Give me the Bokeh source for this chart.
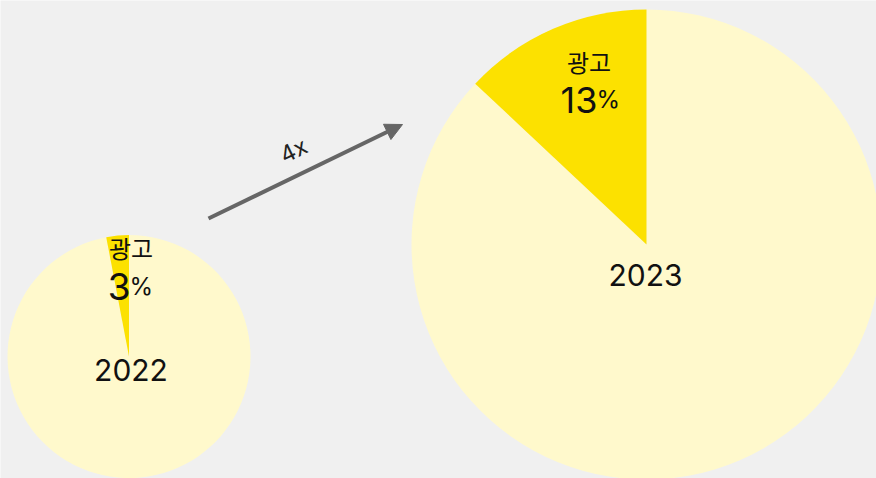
import math
from bokeh.plotting import figure
from bokeh.models import Range1d, Arrow, NormalHead, ColumnDataSource
from bokeh.core.properties import value
from bokeh.embed import file_html
from bokeh.resources import INLINE

# ---- data ----
years = ["2022", "2023"]
ad_share = [3, 13]          # percent of each pie
category = "광고"
growth_label = "4x"

# ---- layout (screen pixels of the 876x478 window) ----
W, H = 876, 478
centers = [(128.5, 356.0), (646.0, 244.0)]
radii = [121.5, 235.0]

BG = "#F0F0F0"
LIGHT = "#FFF9CC"
YELLOW = "#FCE100"
INK = "#111111"
KFONT = "Noto Sans CJK KR"
NFONT = "Inter"


def fy(sy):
    return H - sy


p = figure(width=W, height=H, output_backend="svg", toolbar_location=None,
           x_range=Range1d(0, W), y_range=Range1d(0, H),
           min_border=0, background_fill_color=BG, border_fill_color=BG)
p.axis.visible = False
p.grid.visible = False
p.outline_line_color = None

top = math.pi / 2
for (cx, cy), r, share in zip(centers, radii, ad_share):
    frac = share / 100.0
    end = top + frac * 2 * math.pi
    src = ColumnDataSource(dict(x=[cx, cx], y=[fy(cy), fy(cy)], r=[r, r],
                                s=[end, top], e=[top + 2 * math.pi, end],
                                c=[LIGHT, YELLOW]))
    p.wedge(x="x", y="y", radius="r", start_angle="s", end_angle="e",
            fill_color="c", line_color=None, direction="anticlock", source=src)

# labels
year_pos = [(130.5, 369), (645, 274)]
cat_pos = [(130.5, 247), (588.5, 61)]
num_pos = [(130, 286), (597, 99)]
num_size = ["37px", "36px"]
pct_size = ["24px", "24px"]

for i, yr in enumerate(years):
    p.text(x=[year_pos[i][0]], y=[fy(year_pos[i][1])], text=[yr],
           text_font=value(NFONT), text_font_size="30px", text_color=INK,
           text_align="center", text_baseline="alphabetic")
    p.text(x=[cat_pos[i][0]], y=[fy(cat_pos[i][1])], text=[category],
           text_font=value(KFONT), text_font_size="24px", text_color=INK,
           text_align="center", text_baseline="middle")
    p.text(x=[num_pos[i][0]], y=[fy(num_pos[i][1])], text=[str(ad_share[i])],
           text_font=value(NFONT), text_font_size=num_size[i], text_color=INK,
           text_align="right", text_baseline="alphabetic")
    p.text(x=[num_pos[i][0] - 1], y=[fy(num_pos[i][1])], text=["%"],
           text_font=value(NFONT), text_font_size=pct_size[i], text_color=INK,
           text_align="left", text_baseline="alphabetic")

# growth arrow
x0, y0, x1, y1 = 208, 218, 402, 124
p.add_layout(Arrow(x_start=x0, y_start=fy(y0), x_end=x1, y_end=fy(y1),
                   line_color="#666666", line_width=4,
                   end=NormalHead(size=17, fill_color="#666666", line_color="#666666")))
ang = math.atan2(y0 - y1, x1 - x0)
p.text(x=[293], y=[fy(150)], text=[growth_label], angle=ang,
       text_font=value(NFONT), text_font_size="23px", text_color="#222222",
       text_align="center", text_baseline="middle")

open("out.html", "w").write(file_html(p, INLINE))
